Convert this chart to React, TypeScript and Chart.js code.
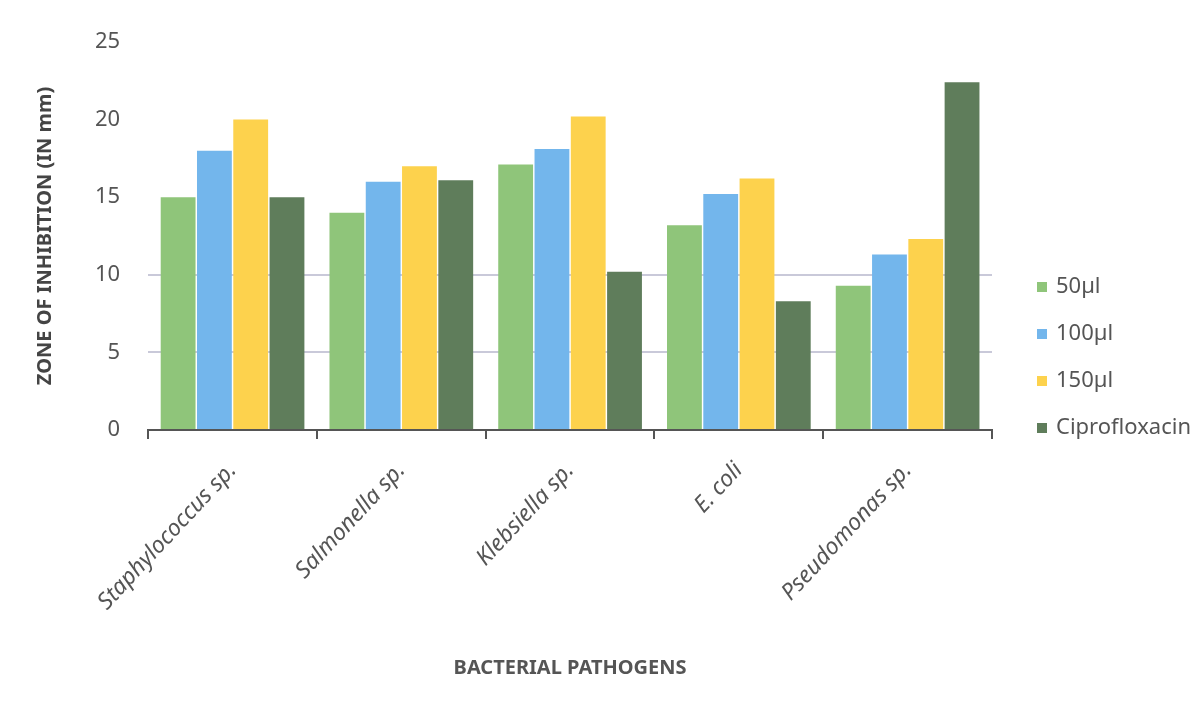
import React, { useEffect, useRef } from "react";
import { Chart, registerables } from "chart.js";

Chart.register(...registerables);

const categories = ["Staphylococcus sp.", "Salmonella sp.", "Klebsiella sp.", "E. coli", "Pseudomonas sp."];
const seriesNames = ["50µl", "100µl", "150µl", "Ciprofloxacin"];
const values50 = [15, 14, 17.1, 13.2, 9.3];
const values100 = [18, 16, 18.1, 15.2, 11.3];
const values150 = [20, 17, 20.2, 16.2, 12.3];
const valuesCipro = [15, 16.1, 10.2, 8.3, 22.4];
const yTicks = [0, 5, 10, 15, 20, 25];
const colors = ["#8fc57a", "#73b6ec", "#fdd24d", "#5f7d5b"];

const FONT = "'Noto Sans', 'Open Sans', sans-serif";

const sideLegend = {
  id: "sideLegend",
  afterDraw(chart: any) {
    const ctx = chart.ctx;
    const area = chart.chartArea;
    const x0 = area.right + 45;
    const yc = chart.height / 2;
    const step = 47;
    const n = chart.data.datasets.length;
    ctx.save();
    ctx.font = `22px ${FONT}`;
    ctx.textBaseline = "middle";
    ctx.textAlign = "left";
    chart.data.datasets.forEach((ds: any, i: number) => {
      const y = yc + (i - (n - 1) / 2) * step;
      ctx.fillStyle = ds.backgroundColor;
      ctx.fillRect(x0, y - 5, 10, 10);
      ctx.fillStyle = "#555";
      ctx.fillText(ds.label, x0 + 19, y);
    });
    ctx.restore();
  },
};

export default function App() {
  const ref = useRef<HTMLCanvasElement | null>(null);
  useEffect(() => {
    document.body.style.margin = "0";
    if (!ref.current) return;
    const chart = new Chart(ref.current, {
      type: "bar",
      data: {
        labels: categories,
        datasets: [values50, values100, values150, valuesCipro].map((d, i) => ({
          label: seriesNames[i],
          data: d,
          backgroundColor: colors[i],
          borderWidth: 0,
          categoryPercentage: 0.86,
          barPercentage: 0.96,
        })),
      },
      options: {
        animation: false,
        responsive: false,
        layout: { padding: { left: 33, top: 42, right: 203, bottom: 35 } },
        plugins: {
          tooltip: { enabled: false },
          legend: { display: false },
        },
        scales: {
          x: {
            afterFit: (axis: any) => {
              axis.height = 250;
            },
            border: { display: true, color: "#555", width: 2 },
            grid: { display: true, drawOnChartArea: false, drawTicks: true, tickLength: 9, color: "#555", lineWidth: 2, offset: true },
            ticks: {
              color: "#555",
              font: { family: FONT, size: 23, style: "italic" },
              minRotation: 47,
              maxRotation: 47,
              padding: 18,
            },
            title: {
              display: true,
              text: "BACTERIAL PATHOGENS",
              color: "#555",
              font: { family: FONT, size: 20, weight: "bold" },
              padding: { top: 8, bottom: 0 },
            },
          },
          y: {
            min: 0,
            max: 25,
            afterBuildTicks: (axis: any) => {
              axis.ticks = yTicks.map((v) => ({ value: v }));
            },
            border: { display: false },
            grid: {
              drawTicks: false,
              color: (ctx: any) => (ctx.tick && (ctx.tick.value === 5 || ctx.tick.value === 10) ? "#c9c9d9" : "rgba(0,0,0,0)"),
              lineWidth: 2,
            },
            ticks: {
              color: "#555",
              font: { family: FONT, size: 22 },
              padding: 28,
            },
            title: {
              display: true,
              text: "ZONE OF INHIBITION (IN mm)",
              color: "#444",
              font: { family: FONT, size: 20, weight: "bold" },
              padding: { top: 0, bottom: 10 },
            },
          },
        },
      },
      plugins: [sideLegend],
    });
    return () => chart.destroy();
  }, []);
  return (
    <div style={{ width: 1195, height: 715, background: "#fff" }}>
      <canvas ref={ref} width={1195} height={715} />
    </div>
  );
}
